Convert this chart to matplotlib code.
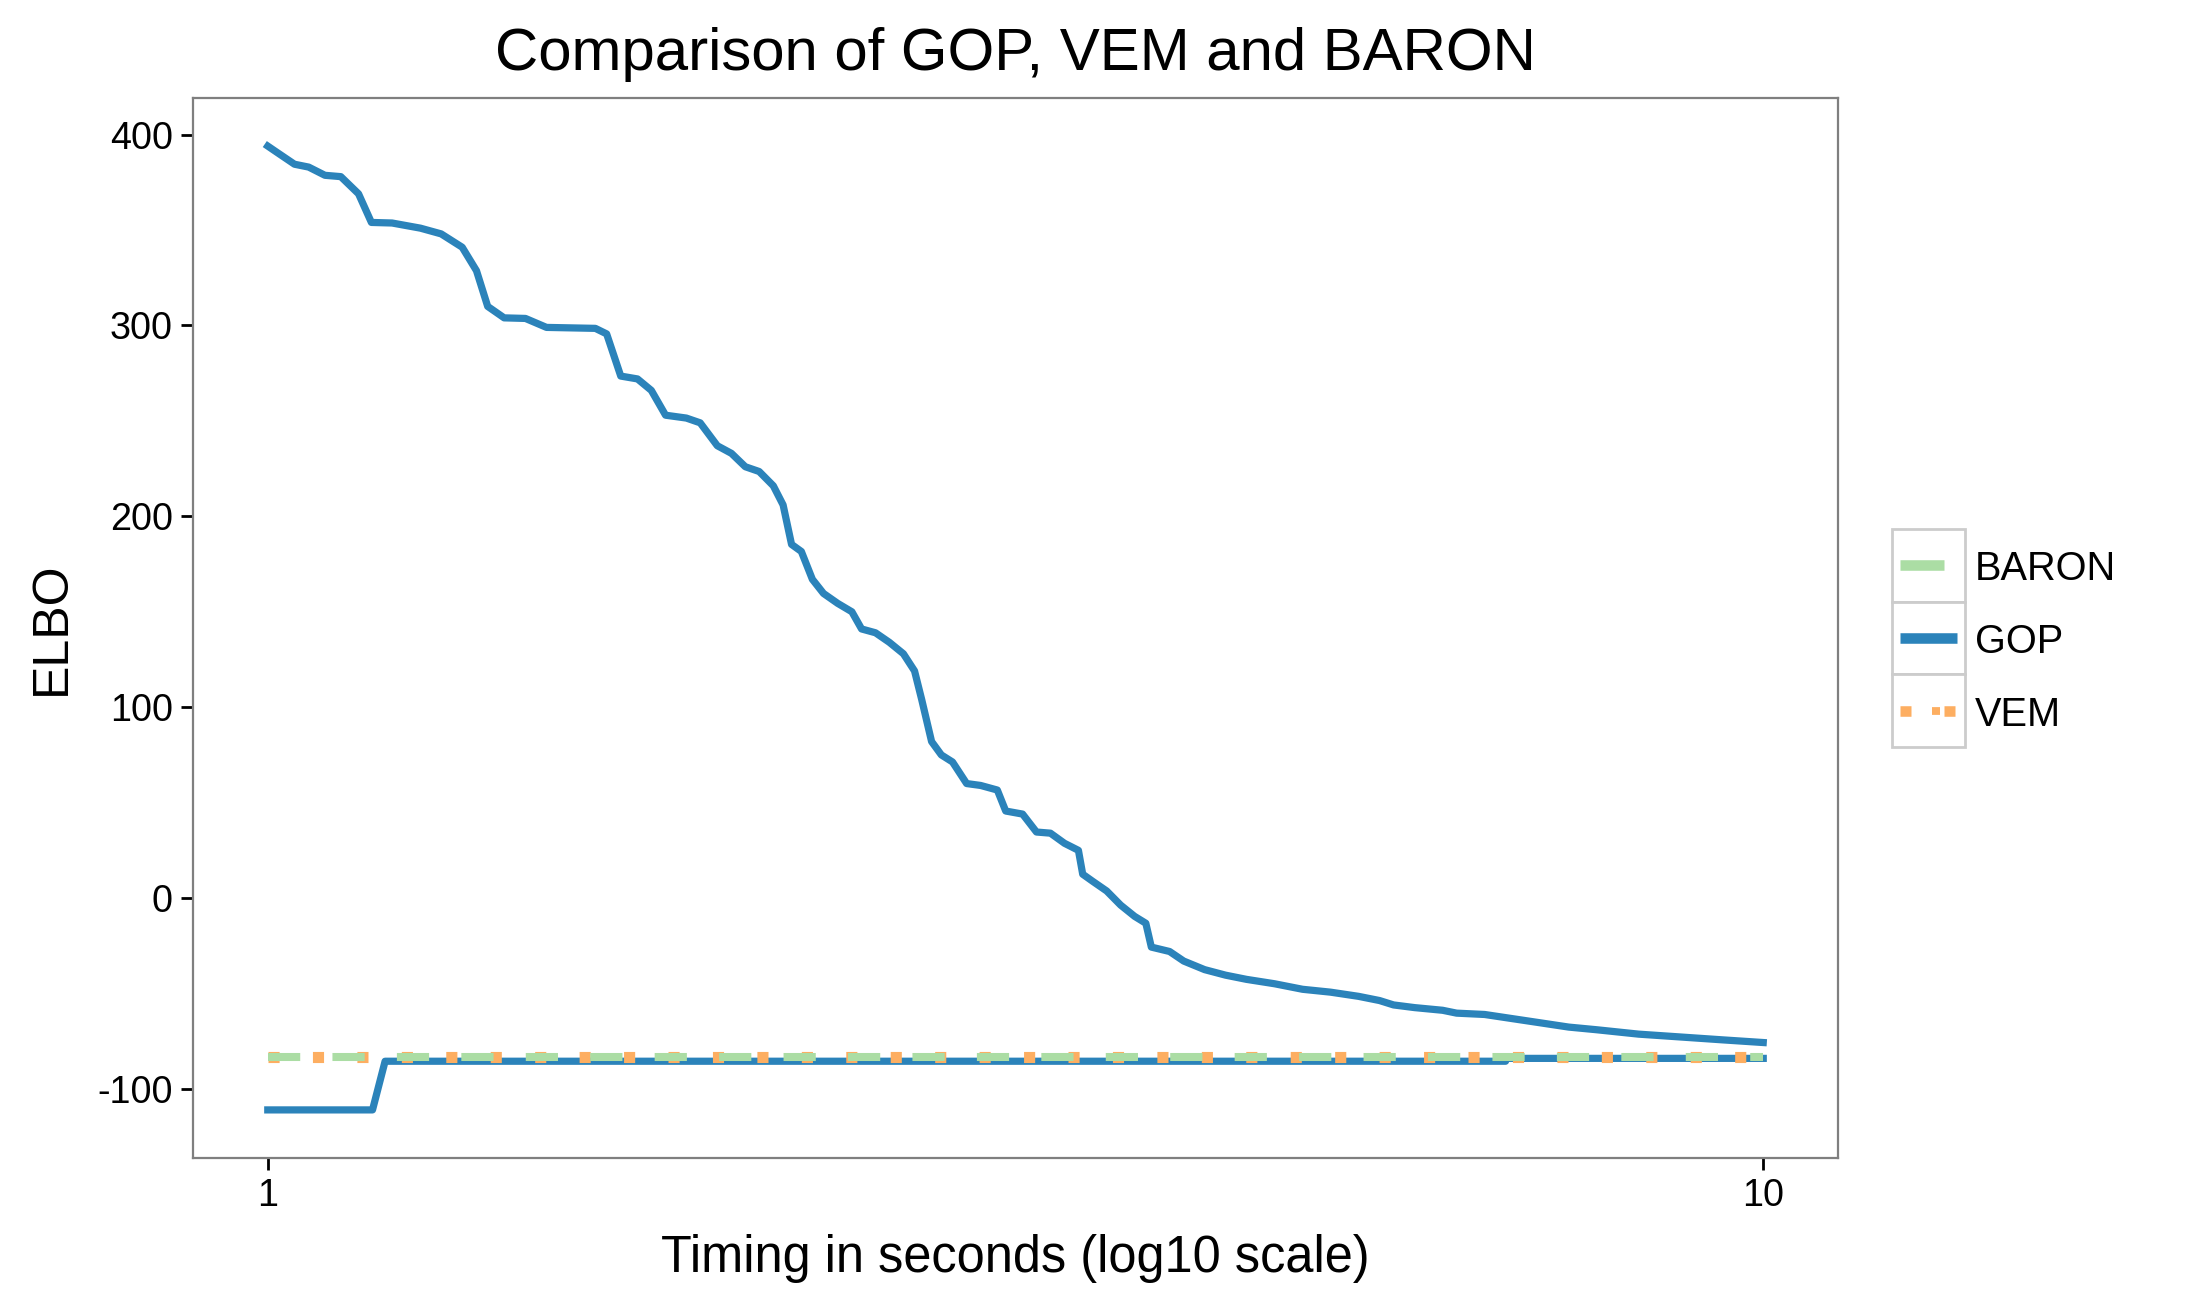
import matplotlib
matplotlib.use("Agg")
import matplotlib.pyplot as plt
from matplotlib.lines import Line2D
from matplotlib.patches import Rectangle

plt.rcParams['font.family'] = ['Liberation Sans', 'DejaVu Sans']
plt.rcParams['axes.unicode_minus'] = False

# GOP upper bound (decreasing)
gop_upper_t = [1.000, 1.013, 1.042, 1.065, 1.092, 1.119, 1.150, 1.173, 1.211, 1.265,
               1.306, 1.349, 1.379, 1.403, 1.439, 1.487, 1.536, 1.656, 1.685, 1.722,
               1.767, 1.805, 1.845, 1.905, 1.946, 1.998, 2.042, 2.086, 2.131, 2.178,
               2.211, 2.240, 2.274, 2.313, 2.353, 2.405, 2.458, 2.495, 2.549, 2.604,
               2.661, 2.707, 2.737, 2.779, 2.821, 2.870, 2.933, 2.997, 3.075, 3.115,
               3.197, 3.266, 3.337, 3.410, 3.484, 3.507, 3.561, 3.639, 3.718, 3.799,
               3.865, 3.898, 4.009, 4.097, 4.231, 4.370, 4.513, 4.712, 4.920, 5.136,
               5.363, 5.539, 5.660, 5.846, 6.104, 6.237, 6.512, 6.799, 7.099, 7.411,
               7.738, 8.254, 8.807, 9.394, 10.000]
gop_upper_elbo = [394.0, 391.0, 384.5, 383.0, 378.7, 378.0, 369.0, 354.0, 353.7, 351.0,
                  348.0, 341.0, 328.7, 310.0, 304.0, 303.7, 299.0, 298.5, 295.6, 273.5,
                  272.0, 266.0, 253.0, 251.5, 249.0, 237.0, 233.0, 226.0, 223.5, 216.0,
                  206.0, 185.3, 181.6, 167.0, 159.6, 154.4, 150.0, 141.0, 139.0, 134.0,
                  128.0, 119.0, 104.0, 82.0, 75.0, 71.3, 60.0, 59.0, 56.6, 45.6,
                  44.0, 34.6, 34.0, 28.7, 25.0, 12.5, 8.8, 3.7, -3.7, -9.6,
                  -13.2, -25.7, -28.0, -33.0, -37.5, -40.4, -42.6, -44.9, -47.8, -49.3,
                  -51.5, -53.7, -56.0, -57.4, -58.8, -60.3, -61.0, -63.2, -65.4, -67.6,
                  -69.0, -71.3, -72.8, -74.3, -75.7]

# GOP lower bound
gop_lower_t = [1.000, 1.175, 1.198, 6.725, 6.725, 10.000]
gop_lower_elbo = [-111.0, -111.0, -85.5, -85.5, -84.0, -84.0]

# BARON and VEM (flat)
baron_t = [1.0, 10.0]
baron_elbo = [-83.5, -83.5]
vem_t = [1.0, 10.0]
vem_elbo = [-83.5, -83.5]

y_ticks = [-100, 0, 100, 200, 300, 400]
x_ticks = [1, 10]
x_tick_labels = ['1', '10']

BLUE = '#2B83BA'
GREEN = '#ABDDA4'
ORANGE = '#FDAE61'

W, H, DPI = 2195, 1304, 200
fig = plt.figure(figsize=(W / DPI, H / DPI), dpi=DPI)
ax = fig.add_axes([193 / W, 1 - 1158 / H, (1838 - 193) / W, (1158 - 98) / H])

ax.plot(gop_upper_t, gop_upper_elbo, color=BLUE, lw=2.6, solid_joinstyle='round', zorder=3)
ax.plot(gop_lower_t, gop_lower_elbo, color=BLUE, lw=2.6, solid_joinstyle='round', zorder=3)
ax.plot(vem_t, vem_elbo, color=ORANGE, lw=4.0, dashes=(1, 3), zorder=4)
ax.plot(baron_t, baron_elbo, color=GREEN, lw=2.9, dashes=(4, 4), zorder=5)

ax.set_xscale('log')
ax.set_xlim(10 ** -0.05, 10 ** 1.05)
ax.set_ylim(-136.2, 419.2)
ax.set_xticks(x_ticks)
ax.set_xticklabels(x_tick_labels)
ax.xaxis.set_minor_locator(matplotlib.ticker.NullLocator())
ax.set_yticks(y_ticks)
ax.set_yticklabels([str(v) for v in y_ticks])
ax.tick_params(length=4.3, width=1.0, color='black', labelsize=13.6, pad=3)
for sp in ax.spines.values():
    sp.set_color('#7F7F7F')
    sp.set_linewidth(0.8)

ax.set_title('Comparison of GOP, VEM and BARON', fontsize=21.6, pad=10)
ax.set_xlabel('Timing in seconds (log10 scale)', fontsize=18.2, labelpad=7)
ax.set_ylabel('ELBO', fontsize=18, labelpad=8)


# legend drawn by hand, ggplot style: one bordered box per key
def fx(x):
    return x / W


def fy(y):
    return 1 - y / H


labels = ['BARON', 'GOP', 'VEM']
key_top = 529
key_h = 72.7
for i, lab in enumerate(labels):
    top = key_top + i * key_h
    fig.add_artist(Rectangle((fx(1892), fy(top + key_h)), (1965 - 1892) / W, key_h / H,
                             transform=fig.transFigure, facecolor='white',
                             edgecolor='#CCCCCC', lw=1.0))
    yc = fy(top + key_h / 2 + 4)
    fig.text(fx(1975), yc, lab, fontsize=14.3, va='center', ha='left')

yc0 = fy(key_top + key_h / 2)
fig.add_artist(Line2D([fx(1900), fx(1944)], [yc0, yc0], transform=fig.transFigure,
                      color=GREEN, lw=3.8, solid_capstyle='butt'))
yc1 = fy(key_top + 1.5 * key_h)
fig.add_artist(Line2D([fx(1900), fx(1957)], [yc1, yc1], transform=fig.transFigure,
                      color=BLUE, lw=3.8, solid_capstyle='butt'))
yc2 = fy(key_top + 2.5 * key_h)
for x0, x1, w in [(1900, 1911, 3.8), (1932, 1940, 2.8), (1944, 1955, 3.8)]:
    fig.add_artist(Line2D([fx(x0), fx(x1)], [yc2, yc2], transform=fig.transFigure,
                          color=ORANGE, lw=w, solid_capstyle='butt'))

fig.savefig('out.png', dpi=DPI)
